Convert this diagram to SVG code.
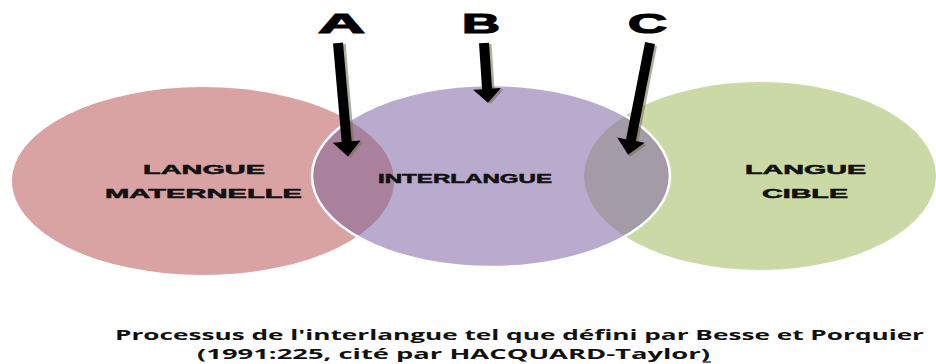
<svg xmlns="http://www.w3.org/2000/svg" width="936" height="364" viewBox="0 0 936 364">
<style>
.lbl{font-family:"Liberation Sans",Arial,sans-serif;font-weight:bold;font-size:12.5px;fill:#111;stroke:#111;stroke-width:0.5}
.big{font-family:"Liberation Sans",Arial,sans-serif;font-weight:bold;font-size:28px;fill:#000;stroke:#000;stroke-width:1.2}
.cap{font-family:"Open Sans","Liberation Sans",sans-serif;font-weight:bold;font-size:15px;fill:#111}
.arrow{fill:#000}
.shadow{fill:#6e6e50;opacity:0.55}
</style>
<defs>
<clipPath id="clipPurple"><ellipse cx="491" cy="176" rx="179" ry="91"/></clipPath>
</defs>
<rect width="936" height="364" fill="#fff"/>
<g id="maternelle">
<ellipse cx="203" cy="181" rx="191" ry="94" fill="#d8a3a2"/>
</g>
<g id="cible">
<ellipse cx="760" cy="176" rx="176" ry="94" fill="#cbd9a6"/>
</g>
<g id="interlangue">
<ellipse cx="491" cy="176" rx="179" ry="91" fill="#b9abcd"/>
<ellipse cx="203" cy="181" rx="191" ry="94" fill="#a9819d" clip-path="url(#clipPurple)"/>
<ellipse cx="760" cy="176" rx="176" ry="94" fill="#a39ba6" clip-path="url(#clipPurple)"/>
<ellipse cx="491" cy="176" rx="179" ry="91" fill="none" stroke="#fff" stroke-width="2.5"/>
</g>
<g id="labels">
<text class="lbl" x="143" y="174" textLength="122" lengthAdjust="spacingAndGlyphs">LANGUE</text>
<text class="lbl" x="105" y="198" textLength="197" lengthAdjust="spacingAndGlyphs">MATERNELLE</text>
<text class="lbl" x="378" y="183" textLength="174" lengthAdjust="spacingAndGlyphs">INTERLANGUE</text>
<text class="lbl" x="745" y="174" textLength="121" lengthAdjust="spacingAndGlyphs">LANGUE</text>
<text class="lbl" x="762" y="198" textLength="86" lengthAdjust="spacingAndGlyphs">CIBLE</text>
</g>
<g id="letters">
<text class="big" x="318" y="33" textLength="47" lengthAdjust="spacingAndGlyphs">A</text>
<text class="big" x="462" y="33" textLength="38" lengthAdjust="spacingAndGlyphs">B</text>
<text class="big" x="628" y="33" textLength="39" lengthAdjust="spacingAndGlyphs">C</text>
</g>
<g id="connectors">
<g transform="translate(338,43) rotate(-5)">
<path class="shadow" transform="translate(2.5,1.5)" d="M-5,0 H5 V99 H14 L0,114 L-14,99 H-5 Z"/>
<path class="arrow" d="M-5,0 H5 V99 H14 L0,114 L-14,99 H-5 Z"/>
</g>
<g transform="translate(484,43) rotate(-3.8)">
<path class="shadow" transform="translate(2.5,1.5)" d="M-5,0 H5 V46 H14 L0,60 L-14,46 H-5 Z"/>
<path class="arrow" d="M-5,0 H5 V46 H14 L0,60 L-14,46 H-5 Z"/>
</g>
<g transform="translate(650,43) rotate(11.1)">
<path class="shadow" transform="translate(2.5,1.5)" d="M-5,0 H5 V99 H14 L0,114 L-14,99 H-5 Z"/>
<path class="arrow" d="M-5,0 H5 V99 H14 L0,114 L-14,99 H-5 Z"/>
</g>
</g>
<g id="caption">
<text class="cap" x="115" y="340" textLength="809" lengthAdjust="spacingAndGlyphs">Processus de l'interlangue tel que défini par  Besse et Porquier</text>
<text class="cap" x="197" y="359" textLength="513" lengthAdjust="spacingAndGlyphs">(1991:225, cité par HACQUARD-Taylor)</text>
<line x1="703" y1="362" x2="711" y2="362" stroke="#111" stroke-width="1.2"/>
</g>
</svg>
